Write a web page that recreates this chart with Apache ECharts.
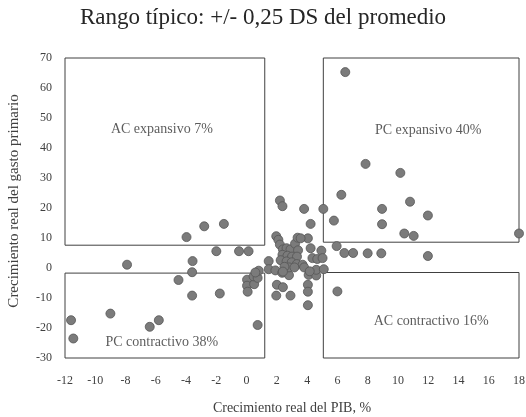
<!DOCTYPE html>
<html>
<head>
<meta charset="utf-8">
<script src="https://cdn.jsdelivr.net/npm/echarts@6/dist/echarts.min.js"></script>
<style>
  html, body { margin: 0; padding: 0; background: #fff; }
  #chart { width: 526px; height: 417px; }
</style>
</head>
<body>
<div id="chart"></div>
<script>
// Real GDP growth (x, %) and real primary spending growth (y, %) per observation
const gdpGrowth = [
  -11.6, -11.45, -9.0, -6.4, -5.8, 0.73, -7.9, -3.97, -2.8, -1.5,
  -2.0, -0.5, 0.13, -3.57, -3.6, -4.5, -3.6, -1.77,
  0.03, 0.03, 0.07, 0.5, 0.46, 0.73, 0.8, 0.58,
  1.46, 1.46, 1.9, 2.35, 2.8, 1.96, 2.1, 2.2, 2.4, 2.64,
  2.9, 3.2, 3.37, 3.4, 2.37, 2.7, 3.0, 3.33, 2.25, 2.64,
  2.98, 3.32, 3.7, 3.8, 2.8, 3.16, 2.5, 2.4, 4.1, 4.6,
  4.6, 5.1, 2.0, 2.4, 1.96, 2.9, 4.05, 4.05, 4.05, 6.0,
  2.2, 2.37, 3.8, 5.07, 5.77, 4.23, 4.05, 3.57, 4.23, 4.94,
  5.95, 6.46, 7.04, 4.35, 4.67, 5.02,
  6.52, 7.86, 10.16, 6.26, 8.95, 10.8, 11.98, 8.95, 10.42, 11.04,
  18.0, 8.0, 8.9, 11.98, 4.17
];
const spendingGrowth = [
  -17.4, -23.5, -15.2, -19.6, -17.4, -19.0, 1.1, 10.3, 13.9, 14.7,
  5.6, 5.6, 5.6, 2.3, -1.4, -4.0, -9.2, -8.5,
  -3.9, -5.9, -7.9, -5.4, -2.8, -3.3, -0.9, -1.5,
  2.3, -0.4, -0.8, -1.6, -2.4, 10.6, 9.4, 7.8, 6.2, 6.6,
  6.2, 8.1, 10.1, 5.9, 4.4, 4.1, 3.8, 3.8, 2.6, 2.2,
  1.9, 1.3, 1.1, 0.2, 0.2, 0.2, 0.4, -1.2, -2.3, -2.5,
  -0.6, -0.4, -5.6, -6.4, -9.2, -9.2, -5.6, -7.9, -12.4, -7.8,
  22.5, 20.6, 19.7, 19.7, 15.8, 14.7, 9.9, 9.9, 6.6, 5.8,
  7.3, 5.0, 5.0, 3.3, 3.0, 3.3,
  65.3, 34.7, 31.7, 24.4, 19.7, 22.1, 17.5, 14.6, 11.5, 10.7,
  11.5, 4.9, 4.9, 4.0, -1.1
];

// Typical range (+/- 0.25 SD of the mean) bounds for each quadrant frame
const gdpLow = 1.2;
const gdpHigh = 5.07;
const spendHighLeft = 7.6;
const spendHighRight = 8.6;
const spendLowLeft = -1.7;
const spendLowRight = -1.5;

// Quadrant captions and where they sit (data units)
const quadrantNames = ['AC expansivo 7%', 'PC expansivo 40%', 'AC contractivo 16%', 'PC contractivo 38%'];
const quadrantX = [-5.6, 12.0, 12.2, -5.6];
const quadrantY = [46.2, 45.9, -17.7, -24.7];

// Axis extents and tick step
const xMin = -12, xMax = 18, xStep = 2;
const yMin = -30, yMax = 70, yStep = 10;

const FONT = '"Liberation Serif", "Times New Roman", serif';
const TEXT = '#404040';

const points = gdpGrowth.map((x, i) => [x, spendingGrowth[i]]);
const captions = quadrantNames.map((name, i) => ({ value: [quadrantX[i], quadrantY[i]], name }));

const frameStyle = { color: 'rgba(0,0,0,0)', borderColor: '#404040', borderWidth: 1 };

const chart = echarts.init(document.getElementById('chart'), null, { renderer: 'canvas' });
chart.setOption({
  animation: false,
  backgroundColor: '#ffffff',
  title: {
    text: 'Rango típico: +/- 0,25 DS del promedio',
    left: 'center',
    top: 1,
    textStyle: { fontFamily: FONT, fontSize: 23, fontWeight: 'normal', color: '#262626' }
  },
  graphic: [{
    type: 'text',
    x: 14, y: 201,
    rotation: Math.PI / 2,
    style: {
      text: 'Crecimiento real del gasto primario',
      fontFamily: FONT, fontSize: 15, fill: TEXT,
      align: 'center', verticalAlign: 'middle'
    }
  }],
  grid: { left: 65, right: 7, top: 58, bottom: 59, containLabel: false, outerBoundsMode: 'none' },
  xAxis: {
    type: 'value',
    min: xMin, max: xMax, interval: xStep,
    name: 'Crecimiento real del PIB, %',
    nameLocation: 'middle',
    nameGap: 43,
    nameTextStyle: { fontFamily: FONT, fontSize: 14, color: TEXT },
    axisLine: { show: false },
    axisTick: { show: false },
    splitLine: { show: false },
    axisLabel: { fontFamily: FONT, fontSize: 12, color: TEXT, margin: 17 }
  },
  yAxis: {
    type: 'value',
    min: yMin, max: yMax, interval: yStep,
    axisLine: { show: false },
    axisTick: { show: false },
    splitLine: { show: false },
    axisLabel: { fontFamily: FONT, fontSize: 12, color: TEXT, margin: 13 }
  },
  series: [
    {
      // Quadrant frames
      type: 'scatter',
      data: [],
      silent: true,
      markArea: {
        silent: true,
        itemStyle: frameStyle,
        data: [
          [{ coord: [xMin, spendHighLeft] }, { coord: [gdpLow, yMax] }],
          [{ coord: [gdpHigh, spendHighRight] }, { coord: [xMax, yMax] }],
          [{ coord: [xMin, yMin] }, { coord: [gdpLow, spendLowLeft] }],
          [{ coord: [gdpHigh, yMin] }, { coord: [xMax, spendLowRight] }]
        ]
      }
    },
    {
      // Quadrant captions
      type: 'scatter',
      symbolSize: 0,
      silent: true,
      data: captions,
      label: {
        show: true,
        position: 'inside',
        formatter: p => p.name,
        fontFamily: FONT,
        fontSize: 14,
        color: '#333333'
      }
    },
    {
      type: 'scatter',
      data: points,
      symbol: 'circle',
      symbolSize: 9,
      itemStyle: { color: '#7b7b7b', borderColor: '#555555', borderWidth: 0.8, opacity: 1 }
    }
  ]
});
</script>
</body>
</html>
